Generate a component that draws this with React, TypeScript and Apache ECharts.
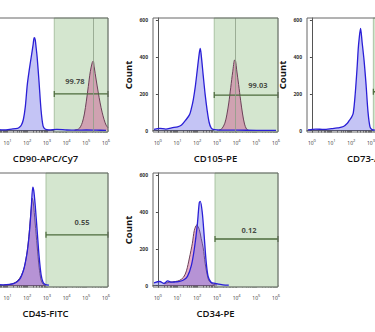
import React, { useEffect, useRef } from "react";
import * as echarts from "echarts";

// ---- categories / texts ----
const markerNames = ["CD90-APC/Cy7", "CD105-PE", "CD73-APC", "CD45-FITC", "CD34-PE"];
const gatePercents = ["99.78", "99.03", "", "0.55", "0.12"];
const decadeTicks = [0, 1, 2, 3, 4, 5, 6];
const countTicks = [0, 200, 400, 600];

// ---- gate definitions (log10 decades / counts) ----
const gateStarts = [3.37, 2.86, 3.12, 2.95, 2.9];
const gateLevels = [199, 193, 211, 276, 253];
const medianMarks = [5.37, 3.95, null, null, null];

// ---- histograms (x in log10 decades, y = count) ----
const cd90CtrlX = [-0.2, 0.3, 0.8, 1.2, 1.5, 1.6, 1.7, 1.8, 1.9, 2.0, 2.1, 2.2, 2.3, 2.35, 2.4, 2.45, 2.5, 2.6, 2.7, 2.8, 2.9, 3.1, 3.5, 4.0, 4.5, 5.0, 5.5, 6.0];
const cd90CtrlY = [3, 6, 4, 8, 12, 18, 30, 60, 130, 250, 330, 400, 470, 505, 495, 450, 400, 260, 110, 25, 8, 4, 6, 3, 2, 3, 2, 1];
const cd90StainX = [4.4, 4.6, 4.7, 4.8, 4.9, 5.0, 5.1, 5.2, 5.3, 5.35, 5.4, 5.5, 5.6, 5.7, 5.8, 5.9, 6.0, 6.1];
const cd90StainY = [2, 8, 20, 45, 90, 160, 240, 320, 370, 378, 345, 275, 210, 150, 100, 60, 30, 15];

const cd105CtrlX = [-0.2, 0.1, 0.4, 0.7, 1.0, 1.2, 1.4, 1.6, 1.7, 1.8, 1.9, 2.0, 2.1, 2.15, 2.2, 2.3, 2.4, 2.5, 2.6, 2.7, 2.8, 3.0, 3.5, 4.0, 5.0, 6.0];
const cd105CtrlY = [6, 12, 8, 15, 20, 30, 55, 85, 120, 170, 240, 330, 420, 447, 410, 300, 195, 110, 45, 15, 6, 3, 2, 2, 1, 1];
const cd105StainX = [3.1, 3.25, 3.4, 3.5, 3.6, 3.7, 3.8, 3.9, 3.95, 4.0, 4.1, 4.2, 4.3, 4.4, 4.5, 4.6];
const cd105StainY = [2, 10, 40, 85, 150, 235, 320, 384, 375, 330, 250, 165, 90, 35, 8, 2];

const cd73CtrlX = [-0.2, 0.2, 0.6, 1.0, 1.3, 1.6, 1.8, 1.9, 2.0, 2.1, 2.2, 2.3, 2.35, 2.4, 2.47, 2.55, 2.65, 2.75, 2.85, 2.95, 3.05, 3.2];
const cd73CtrlY = [4, 8, 6, 10, 14, 22, 40, 55, 70, 95, 200, 350, 440, 500, 555, 480, 380, 250, 100, 20, 5, 2];

const cd45CtrlX = [-0.2, 0.3, 0.8, 1.1, 1.3, 1.5, 1.65, 1.8, 1.9, 2.0, 2.1, 2.2, 2.28, 2.33, 2.4, 2.5, 2.6, 2.7, 2.8, 2.9, 3.1];
const cd45CtrlY = [3, 5, 4, 6, 10, 22, 40, 80, 125, 185, 280, 420, 535, 515, 440, 300, 160, 60, 18, 6, 2];
const cd45StainX = [0.8, 1.1, 1.3, 1.5, 1.7, 1.85, 2.0, 2.1, 2.2, 2.25, 2.3, 2.4, 2.5, 2.6, 2.7, 2.8, 2.9];
const cd45StainY = [3, 6, 12, 25, 55, 100, 190, 290, 420, 475, 455, 340, 215, 100, 30, 8, 2];

const cd34CtrlX = [-0.2, 0.1, 0.3, 0.5, 0.7, 0.9, 1.1, 1.3, 1.5, 1.7, 1.85, 2.0, 2.1, 2.15, 2.25, 2.35, 2.45, 2.55, 2.7, 2.9, 3.1, 3.3, 3.6];
const cd34CtrlY = [15, 22, 12, 25, 18, 20, 22, 30, 50, 110, 200, 330, 450, 458, 400, 270, 130, 50, 18, 12, 8, 4, 2];
const cd34StainX = [0.3, 0.6, 0.9, 1.1, 1.3, 1.45, 1.6, 1.75, 1.85, 1.97, 2.1, 2.2, 2.3, 2.4, 2.5, 2.6, 2.8, 3.0];
const cd34StainY = [10, 18, 22, 28, 45, 80, 150, 230, 300, 329, 305, 255, 205, 120, 60, 25, 8, 3];

const zip = (xs: number[], ys: number[]) => xs.map((x, i) => [x, ys[i]]);

const controls = [
  zip(cd90CtrlX, cd90CtrlY),
  zip(cd105CtrlX, cd105CtrlY),
  zip(cd73CtrlX, cd73CtrlY),
  zip(cd45CtrlX, cd45CtrlY),
  zip(cd34CtrlX, cd34CtrlY),
];
const stains = [
  zip(cd90StainX, cd90StainY),
  zip(cd105StainX, cd105StainY),
  null,
  zip(cd45StainX, cd45StainY),
  zip(cd34StainX, cd34StainY),
];

// ---- layout (pixels, relative to a container shifted 40px left) ----
const SHIFT = 40;
const panelBoxes = [
  { left: -17 + SHIFT, top: 18 },
  { left: 153 + SHIFT, top: 18 },
  { left: 307 + SHIFT, top: 18 },
  { left: -17 + SHIFT, top: 173 },
  { left: 153 + SHIFT, top: 173 },
];
// which panels have their left (y) axis texts inside the visible picture
const yTextsVisible = [false, true, true, false, true];
// decade labels that fall inside the visible picture, per panel
const visibleDecades = [
  decadeTicks.slice(1),
  decadeTicks,
  decadeTicks.slice(0, 4),
  decadeTicks.slice(1),
  decadeTicks,
];
const labelAnchors = [
  [4.42, 268],
  [5.08, 247],
  [5.0, 270],
  [4.78, 345],
  [4.63, 302],
];

const X_MIN = -0.25;
const X_MAX = 6.1;

const minorTicks: number[] = [];
for (let d = 0; d <= 5; d++) {
  minorTicks.push(d);
  for (let k = 2; k <= 9; k++) minorTicks.push(d + Math.log10(k));
}
minorTicks.push(6);

const FONT = "Open Sans";

function buildOption() {
  const grid: any[] = [];
  const xAxis: any[] = [];
  const yAxis: any[] = [];
  const series: any[] = [];

  markerNames.forEach((name, i) => {
    const box = panelBoxes[i];
    grid.push({
      left: box.left,
      top: box.top,
      width: 125,
      height: 114,
      show: true,
      borderColor: "#666",
      borderWidth: 1,
      backgroundColor: "transparent",
      containLabel: false,
      outerBoundsMode: "none",
      z: 10,
    });
    xAxis.push({
      gridIndex: i,
      type: "value",
      min: X_MIN,
      max: X_MAX,
      axisLine: { show: true, lineStyle: { color: "#555", width: 1 } },
      axisTick: { show: true, customValues: minorTicks, length: 2, lineStyle: { color: "#444", width: 0.8 } },
      axisLabel: {
        show: true,
        customValues: visibleDecades[i],
        formatter: (v: number) => `10{s|${v}}`,
        fontSize: 5,
        color: "#333",
        fontFamily: FONT,
        margin: 6,
        hideOverlap: false,
        rich: { s: { fontSize: 4, padding: [0, 0, 5, 0], fontFamily: FONT, color: "#333" } },
      },
      splitLine: { show: false },
      name,
      nameLocation: "middle",
      nameGap: 21,
      nameTextStyle: { fontSize: 9.5, fontWeight: 600, color: "#111", fontFamily: FONT },
    });
    yAxis.push({
      gridIndex: i,
      type: "value",
      min: -8,
      max: 612,
      axisLine: { show: true, lineStyle: { color: "#555", width: 1 } },
      axisTick: { show: true, customValues: countTicks, length: 2, lineStyle: { color: "#444" } },
      axisLabel: {
        show: yTextsVisible[i],
        customValues: countTicks,
        fontSize: 5,
        fontWeight: "bold",
        color: "#333",
        fontFamily: FONT,
        margin: 5,
      },
      splitLine: { show: false },
      name: yTextsVisible[i] ? "Count" : "",
      nameLocation: "middle",
      nameGap: 20,
      nameTextStyle: { fontSize: 9.5, fontWeight: "bold", color: "#111", fontFamily: FONT },
    });

    const gs = gateStarts[i];
    const gy = gateLevels[i];
    const gate: any = {
      type: "line",
      xAxisIndex: i,
      yAxisIndex: i,
      data: [
        [gs, gy],
        [X_MAX, gy],
      ],
      symbol: "rect",
      symbolSize: [1.2, 6],
      showSymbol: true,
      lineStyle: { color: "#4d6b3c", width: 1.3 },
      itemStyle: { color: "#4d6b3c" },
      z: 4,
      silent: true,
      markArea: {
        silent: true,
        itemStyle: { color: "#d4e6cf", borderColor: "#9db995", borderWidth: 0.8 },
        data: [[{ xAxis: gs }, { xAxis: X_MAX }]],
      },
    };
    if (medianMarks[i] != null) {
      gate.markLine = {
        silent: true,
        symbol: "none",
        label: { show: false },
        lineStyle: { color: "#8d9e87", width: 0.8, type: "solid" },
        data: [{ xAxis: medianMarks[i] }],
      };
    }
    series.push(gate);

    const st = stains[i];
    if (st) {
      series.push({
        type: "line",
        xAxisIndex: i,
        yAxisIndex: i,
        data: st,
        symbol: "none",
        smooth: 0.3,
        lineStyle: { color: "#6b4058", width: 1 },
        areaStyle: { color: "rgba(205,80,140,0.45)", opacity: 1 },
        z: 2,
        silent: true,
      });
    }
    series.push({
      type: "line",
      xAxisIndex: i,
      yAxisIndex: i,
      data: controls[i],
      symbol: "none",
      smooth: 0.3,
      lineStyle: { color: "#2a1fd6", width: 1.3 },
      areaStyle: { color: "rgba(100,100,230,0.38)", opacity: 1 },
      z: 3,
      silent: true,
    });

    if (gatePercents[i]) {
      series.push({
        type: "scatter",
        xAxisIndex: i,
        yAxisIndex: i,
        data: [labelAnchors[i]],
        symbolSize: 0,
        silent: true,
        label: {
          show: true,
          position: "inside",
          formatter: gatePercents[i],
          fontSize: 7.5,
          fontWeight: "bold",
          color: "#222",
          fontFamily: FONT,
        },
        z: 6,
      });
    }
  });

  return {
    animation: false,
    backgroundColor: "#ffffff",
    textStyle: { fontFamily: FONT },
    grid,
    xAxis,
    yAxis,
    series,
  };
}

export default function App() {
  const ref = useRef<HTMLDivElement>(null);
  useEffect(() => {
    if (!ref.current) return;
    const chart = echarts.init(ref.current, undefined, { renderer: "svg" });
    chart.setOption(buildOption() as any);
    return () => chart.dispose();
  }, []);
  return (
    <div
      ref={ref}
      style={{ position: "fixed", left: -SHIFT, top: 0, width: 480, height: 332, background: "#fff" }}
    />
  );
}
